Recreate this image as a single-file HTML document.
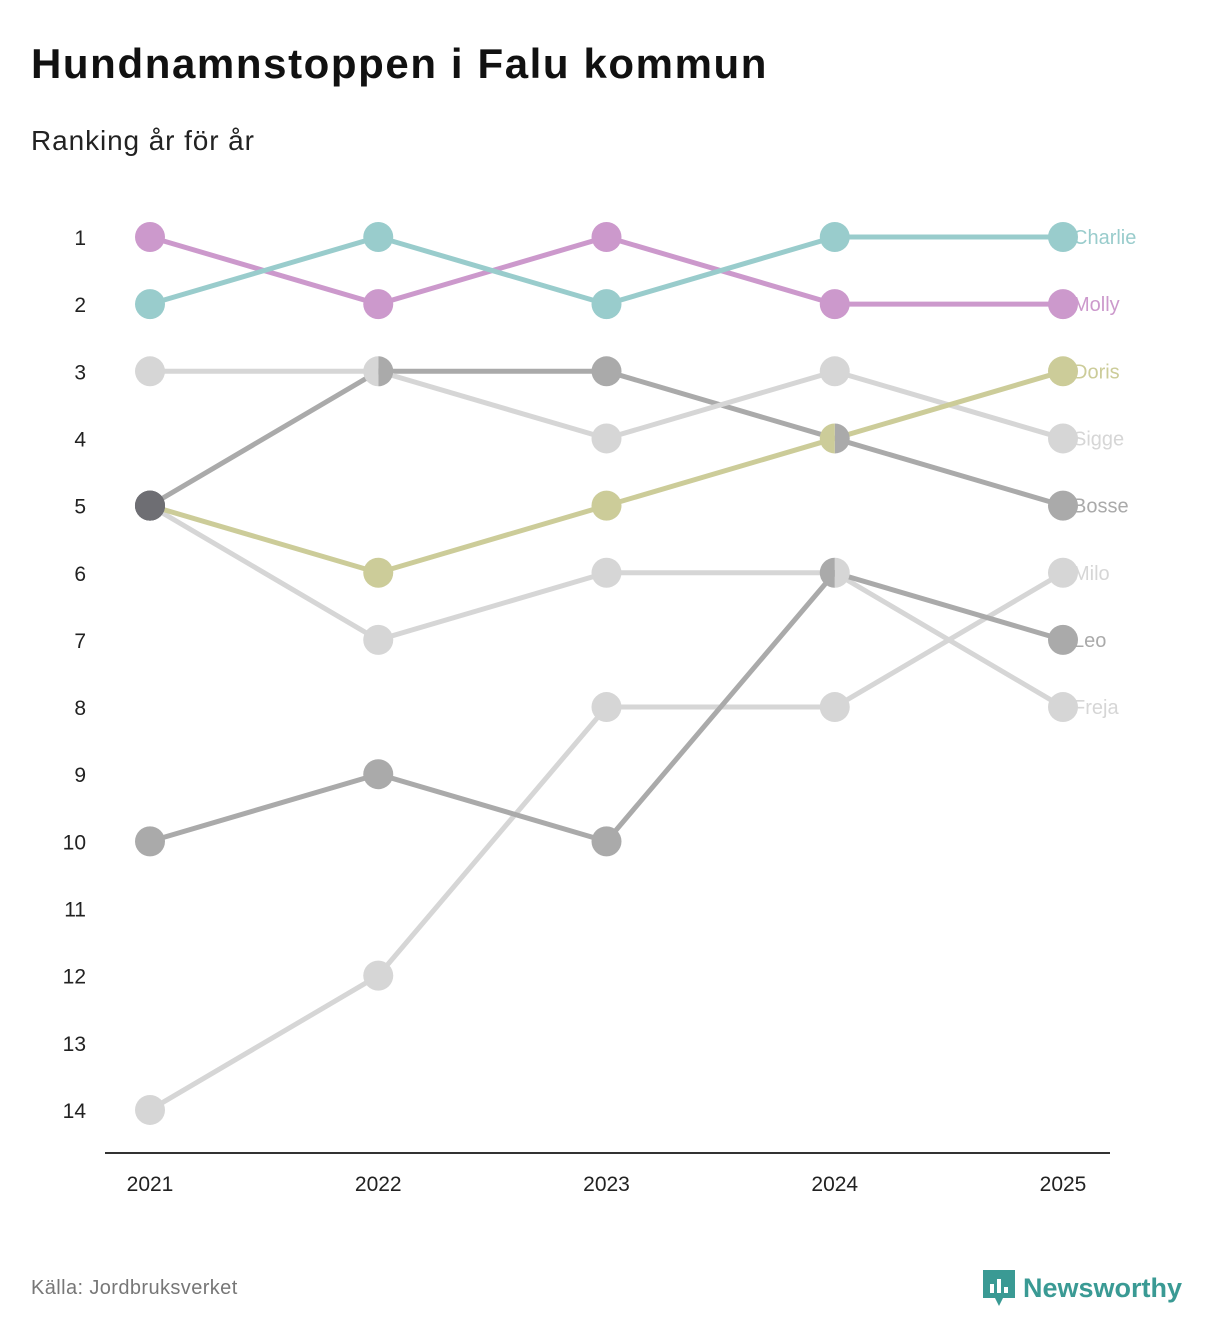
<!DOCTYPE html>
<html><head><meta charset="utf-8">
<style>
body{margin:0;background:#fff;font-family:"Liberation Sans",sans-serif;}
#wrap{position:relative;width:1212px;height:1340px;overflow:hidden;}
h1{position:absolute;left:31px;top:40px;margin:0;font-size:42px;font-weight:bold;color:#111;letter-spacing:1.6px;}
.sub{position:absolute;left:31px;top:125px;font-size:28px;color:#222;letter-spacing:0.9px;}
.src{position:absolute;left:31px;top:1277px;font-size:20px;color:#777;letter-spacing:0.4px;}
.logo{position:absolute;left:983px;top:1270px;font-size:27px;font-weight:bold;color:#3a9a94;display:flex;align-items:center;gap:8px;}
svg{position:absolute;left:0;top:0;}
</style></head><body>
<div id="wrap">
<h1>Hundnamnstoppen i Falu kommun</h1>
<div class="sub">Ranking år för år</div>
<svg id="chart" width="1212" height="1340"></svg>
<div class="src">Källa: Jordbruksverket</div>
<div class="logo"><svg width="32" height="36" viewBox="0 0 32 36" style="position:static"><path d="M0 0H32V28H20L16 36L12 28H0Z" fill="#3a9a94"/><rect x="7" y="14" width="4" height="9" fill="#fff"/><rect x="14" y="9" width="4" height="14" fill="#fff"/><rect x="21" y="17" width="4" height="6" fill="#fff"/></svg><span>Newsworthy</span></div>
</div>
<script>
const years=[2021,2022,2023,2024,2025];
const names=["Milo","Freja","Leo","Bosse","Sigge","Doris","Molly","Charlie"];
const ranks=[
[14,12,8,8,6],
[5,7,6,6,8],
[10,9,10,6,7],
[5,3,3,4,5],
[3,3,4,3,4],
[5,6,5,4,3],
[1,2,1,2,2],
[2,1,2,1,1]];
const colors=["#d6d6d6","#d6d6d6","#aaaaaa","#aaaaaa","#d6d6d6","#cccc99","#cc99cc","#99cccc"];
const rankTicks=[1,2,3,4,5,6,7,8,9,10,11,12,13,14];
const NS="http://www.w3.org/2000/svg";
const svg=document.getElementById('chart');
const x=i=>150+i*228.25;
const y=r=>237+(r-1)*67.15;
const R=15;
function mk(t,a){const e=document.createElementNS(NS,t);for(const k in a)e.setAttribute(k,a[k]);svg.appendChild(e);return e;}
rankTicks.forEach(r=>{const t=mk('text',{x:86,y:y(r)+8,'text-anchor':'end','font-size':21,fill:'#222','font-family':'Liberation Sans'});t.textContent=r;

});
const ax=mk('line',{x1:105,x2:1110,y1:1153,y2:1153,stroke:'#333','stroke-width':2});


years.forEach((yr,i)=>{
const t=mk('text',{x:x(i),y:1191,'text-anchor':'middle','font-size':21,fill:'#222','font-family':'Liberation Sans'});t.textContent=yr;

});
names.forEach((n,s)=>{
const p=mk('polyline',{points:ranks[s].map((r,i)=>x(i)+','+y(r)).join(' '),fill:'none',stroke:colors[s],'stroke-width':5});


});
names.forEach((n,s)=>{
ranks[s].forEach((r,i)=>{
const same=[];names.forEach((m,k)=>{if(ranks[k][i]===r)same.push(k);});
const cx=x(i),cy=y(r);
let c;
if(same.length>=3){c=mk('circle',{cx:cx,cy:cy,r:R,fill:'#6e6e73'});}
else if(same.length===2){
const left=Math.max(...same);
if(s===left)c=mk('path',{d:`M${cx} ${cy-R}A${R} ${R} 0 0 0 ${cx} ${cy+R}Z`,fill:colors[s]});
else c=mk('path',{d:`M${cx} ${cy-R}A${R} ${R} 0 0 1 ${cx} ${cy+R}Z`,fill:colors[s]});
}else c=mk('circle',{cx:cx,cy:cy,r:R,fill:colors[s]});

});
const t=mk('text',{x:1073,y:y(ranks[s][4])+7,'font-size':20,fill:colors[s],'font-family':'Liberation Sans'});t.textContent=n;


});
</script>
</body></html>
